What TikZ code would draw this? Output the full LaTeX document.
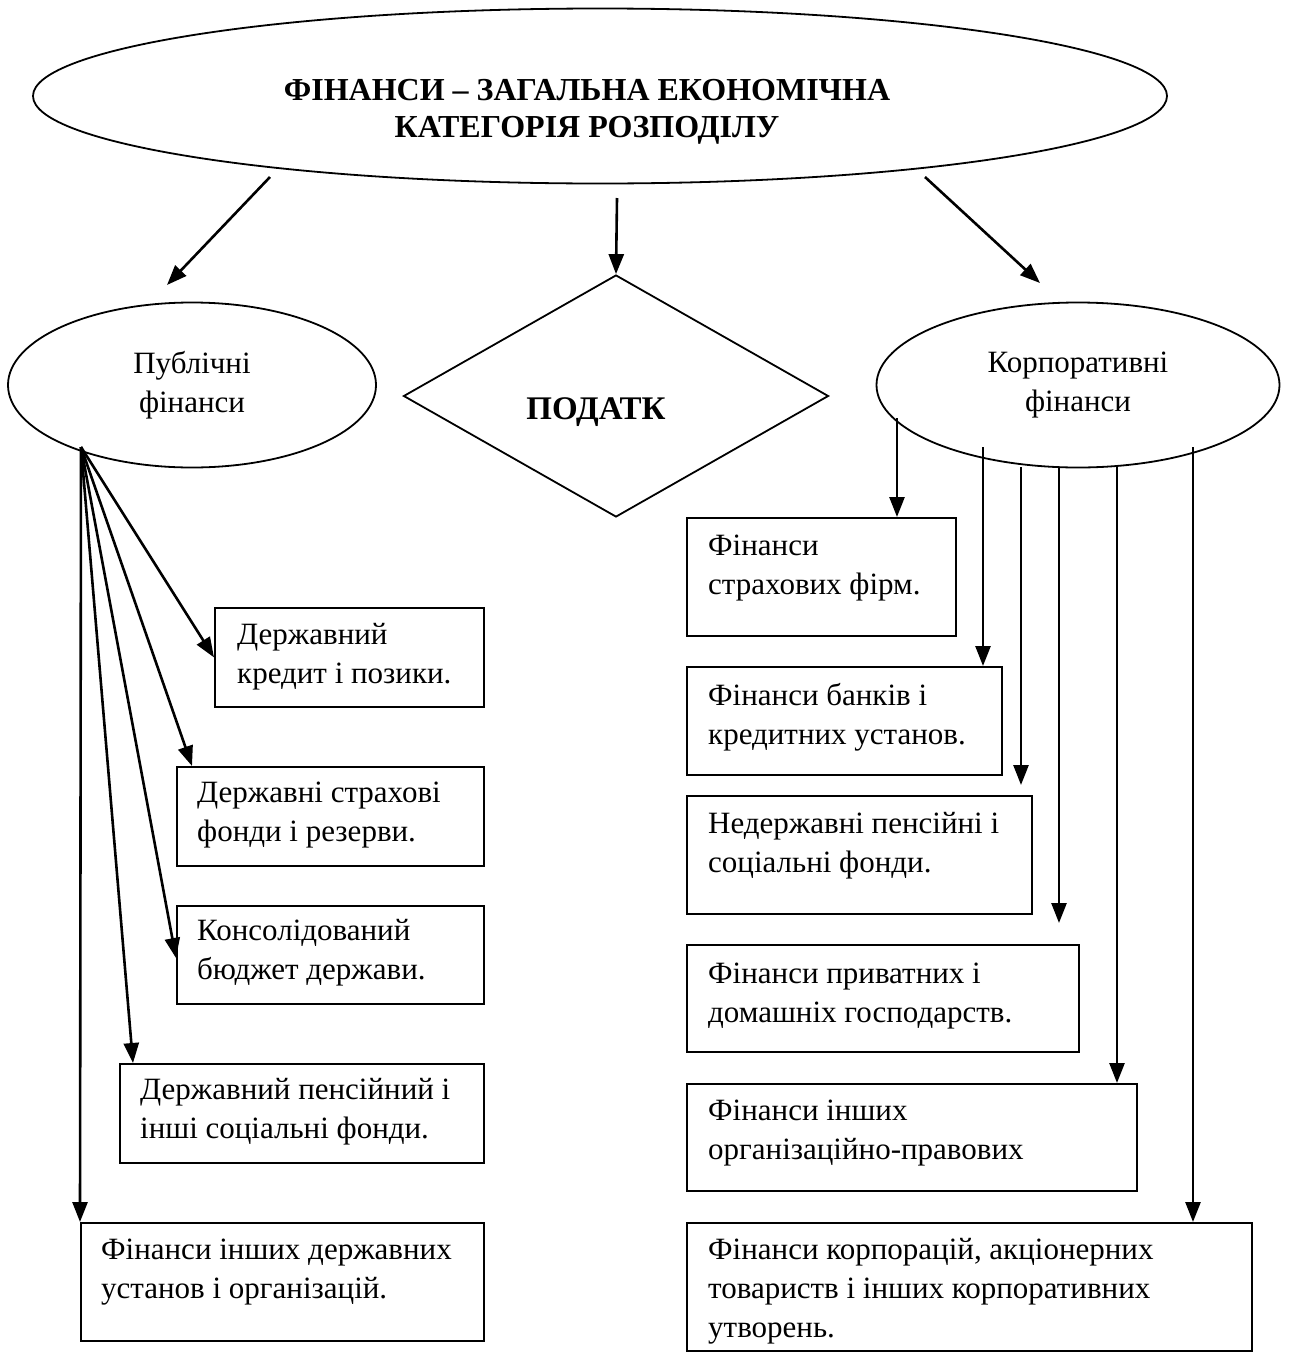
\documentclass[tikz,border=0pt]{standalone}
\usepackage{fontspec}
\setmainfont{Liberation Serif}[BoldFont={Liberation Serif Bold}]
\usetikzlibrary{shapes.geometric,arrows.meta}
\begin{document}
\begin{tikzpicture}[x=1pt,y=-1pt,
  every node/.style={font=\fontsize{31}{39}\selectfont},
  oval/.style={draw,ellipse,line width=1.8pt,inner sep=0pt},
  box/.style={draw,rectangle,line width=1.8pt,anchor=north west,inner sep=0pt,minimum width=#1},
  txt/.style={anchor=west,align=left,inner sep=0pt},
  arr/.style={line width=2.6pt,-{Triangle[length=20pt,width=15pt]}}]
\useasboundingbox (0,0) rectangle (1288,1352);
\fill[white] (0,0) rectangle (1288,1352);
% top ellipse
\node[oval,minimum width=1134,minimum height=175] (top) at (600,96) {};
\node[font=\bfseries\fontsize{32}{37}\selectfont,align=center] (title) at (587,112) {ФІНАНСИ – ЗАГАЛЬНА ЕКОНОМІЧНА\\КАТЕГОРІЯ РОЗПОДІЛУ};
% left and right ellipses
\node[oval,minimum width=368,minimum height=165,align=center] (pub) at (192,385) {Публічні\\фінанси};
\node[oval,minimum width=403,minimum height=165,align=center] (corp) at (1078,385) {Корпоративні\\фінанси};
% diamond
\node[draw,diamond,line width=1.8pt,minimum width=425,minimum height=242,inner sep=0pt] (tax) at (616,396) {};
\node[font=\bfseries\fontsize{33}{37}\selectfont] (taxt) at (596,412) {ПОДАТК};
% arrows from top
\coordinate (t1) at (270,177);
\coordinate (t2) at (617,198);
\coordinate (t3) at (925,177);
\draw[arr] (t1) -- (167,285) coordinate (p1);
\draw[arr] (t2) -- (tax.north);
\draw[arr] (t3) -- (1040,283) coordinate (p3);
% left boxes
\node[box=269,minimum height=99] (b1) at (214,607) {};
\node[txt] (b1t) at (237,657) {Державний\\кредит і позики.};
\node[box=307,minimum height=99] (b2) at (176,766) {};
\node[txt] (b2t) at (197,815) {Державні страхові\\фонди і резерви.};
\node[box=307,minimum height=98] (b3) at (176,905) {};
\node[txt] (b3t) at (197,953) {Консолідований\\бюджет держави.};
\node[box=364,minimum height=99] (b4) at (119,1063) {};
\node[txt] (b4t) at (140,1112) {Державний пенсійний і\\інші соціальні фонди.};
\node[box=403,minimum height=118] (b5) at (80,1222) {};
\node[txt] (b5t) at (101,1272) {Фінанси інших державних\\установ і організацій.};
% fan
\coordinate (f) at (81,447);
\draw[arr] (f) -- (b1.west);
\draw[arr] (f) -- ([xshift=16pt]b2.north west);
\draw[arr] (f) -- ([yshift=-53pt]b3.north west);
\draw[arr] (f) -- ([xshift=14pt]b4.north west);
\draw[arr] (f) -- (b5.north west);
% right boxes
\node[box=269,minimum height=118] (r1) at (686,517) {};
\node[txt] (r1t) at (708,568) {Фінанси\\страхових фірм.};
\node[box=315,minimum height=108] (r2) at (686,666) {};
\node[txt] (r2t) at (708,717) {Фінанси банків і\\кредитних установ.};
\node[box=345,minimum height=118] (r3) at (686,795) {};
\node[txt] (r3t) at (708,846) {Недержавні пенсійні і\\соціальні фонди.};
\node[box=392,minimum height=107] (r4) at (686,944) {};
\node[txt] (r4t) at (708,996) {Фінанси приватних і\\домашніх господарств.};
\node[box=450,minimum height=107] (r5) at (686,1083) {};
\node[txt] (r5t) at (708,1133) {Фінанси інших\\організаційно-правових};
\node[box=565,minimum height=128] (r6) at (686,1222) {};
\node[txt] (r6t) at (708,1291) {Фінанси корпорацій, акціонерних\\товариств і інших корпоративних\\утворень.};
% right arrows
\coordinate (c1) at (897,418);
\coordinate (c2) at (983,447);
\coordinate (c3) at (1021,467);
\coordinate (c4) at (1059,467);
\coordinate (c5) at (1117,467);
\coordinate (c6) at (1193,447);
\draw[arr] (c1) -- (c1 |- r1.north);
\draw[arr] (c2) -- (c2 |- r2.north);
\draw[arr] (c3) -- (1021,785) coordinate (e3);
\draw[arr] (c4) -- (1059,923) coordinate (e4);
\draw[arr] (c5) -- (c5 |- r5.north);
\draw[arr] (c6) -- (c6 |- r6.north);
\end{tikzpicture}
\end{document}
